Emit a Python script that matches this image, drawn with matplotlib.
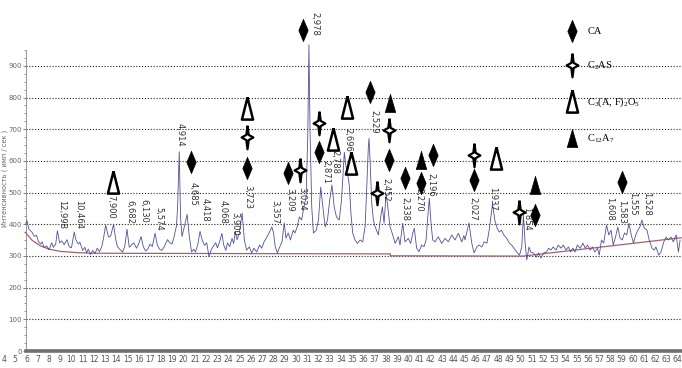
import matplotlib
matplotlib.use("Agg")
import matplotlib.pyplot as plt
from matplotlib.lines import Line2D

plt.rcParams["mathtext.fontset"] = "custom"
plt.rcParams["mathtext.rm"] = "Liberation Serif"
plt.rcParams["mathtext.default"] = "regular"

narrow = ["Liberation Sans Narrow", "DejaVu Sans"]

# diffraction pattern (2-theta, counts per second)
two_theta = [
    5.9, 6.05, 6.2, 6.5, 6.7, 6.9, 7.05, 7.25, 7.4, 7.55, 7.8, 8.0, 8.25, 8.4, 8.6, 8.75,
    8.95, 9.15, 9.35, 9.6, 9.8, 10.0, 10.25, 10.4, 10.6, 10.75, 11.0, 11.2, 11.35, 11.5,
    11.7, 11.9, 12.1, 12.3, 12.5, 12.7, 12.85, 13.05, 13.3, 13.5, 13.75, 13.95, 14.1,
    14.35, 14.55, 14.75, 14.95, 15.15, 15.35, 15.55, 15.8, 16.0, 16.2, 16.4, 16.6, 16.8,
    17.0, 17.2, 17.45, 17.65, 17.85, 18.05, 18.3, 18.55, 18.75, 18.95, 19.15, 19.35,
    19.45, 19.6, 19.72, 19.85, 20.05, 20.3, 20.5, 20.7, 20.9, 21.05, 21.25, 21.45, 21.65,
    21.85, 22.05, 22.25, 22.45, 22.65, 22.85, 23.0, 23.2, 23.4, 23.55, 23.75, 23.9, 24.1,
    24.3, 24.45, 24.6, 24.75, 24.95, 25.05, 25.2, 25.4, 25.6, 25.85, 26.05, 26.25, 26.5,
    26.75, 26.95, 27.15, 27.4, 27.6, 27.85, 28.0, 28.15, 28.35, 28.5, 28.75, 28.95, 29.1,
    29.3, 29.5, 29.75, 29.9, 30.1, 30.3, 30.5, 30.7, 30.9, 31.05, 31.15, 31.25, 31.4,
    31.55, 31.8, 32.0, 32.2, 32.45, 32.6, 32.8, 33.0, 33.2, 33.4, 33.6, 33.85, 34.05,
    34.3, 34.45, 34.6, 34.75, 34.9, 35.05, 35.26, 35.46, 35.7, 35.94, 36.15, 36.3, 36.44,
    36.5, 36.59, 36.74, 36.89, 37.04, 37.33, 37.54, 37.69, 37.84, 38.02, 38.17, 38.37,
    38.61, 38.82, 39.11, 39.26, 39.5, 39.7, 40.0, 40.21, 40.39, 40.53, 40.74, 40.95,
    41.19, 41.4, 41.58, 41.73, 41.87, 42.02, 42.17, 42.38, 42.67, 42.97, 43.27, 43.56,
    43.87, 44.16, 44.45, 44.76, 44.95, 45.05, 45.25, 45.4, 45.65, 45.85, 46.1, 46.3,
    46.55, 46.75, 47.0, 47.2, 47.35, 47.5, 47.7, 47.9, 48.1, 48.3, 48.5, 48.75, 49.0,
    49.2, 49.4, 49.65, 49.9, 50.1, 50.25, 50.4, 50.55, 50.75, 50.9, 51.15, 51.4, 51.6,
    51.8, 52.05, 52.3, 52.5, 52.7, 52.9, 53.15, 53.35, 53.6, 53.8, 54.05, 54.25, 54.45,
    54.65, 54.85, 55.05, 55.3, 55.55, 55.75, 55.95, 56.2, 56.4, 56.6, 56.85, 57.0, 57.2,
    57.4, 57.65, 57.85, 58.05, 58.25, 58.45, 58.65, 58.85, 59.05, 59.25, 59.45, 59.65,
    59.85, 60.05, 60.25, 60.45, 60.65, 60.8, 61.0, 61.25, 61.45, 61.7, 61.9, 62.05, 62.3,
    62.5, 62.75, 62.95, 63.15, 63.4, 63.6, 63.85, 64.05, 64.2,
]
intensity = [
    400, 412, 386, 375, 362, 366, 347, 338, 345, 328, 332, 320, 342, 328, 338, 380,
    342, 348, 336, 352, 330, 326, 376, 352, 338, 344, 318, 328, 310, 322,
    305, 318, 308, 325, 314, 330, 355, 398, 360, 364, 400, 352, 330,
    320, 313, 330, 385, 328, 335, 342, 325, 340, 362, 330, 316, 322,
    338, 330, 372, 335, 322, 318, 332, 352, 343, 338, 362, 395,
    450, 630, 420, 362, 392, 432, 362, 313, 322, 313, 336, 378, 350,
    334, 342, 298, 320, 332, 342, 326, 346, 372, 336, 318, 342, 330,
    356, 340, 378, 352, 372, 398, 436, 351, 319, 329, 310, 325, 313,
    335, 325, 345, 360, 373, 392, 373, 329, 310, 325, 345, 405, 357,
    373, 351, 382, 373, 392, 424, 414, 455, 487, 690, 968, 690, 455,
    373, 382, 414, 518, 436, 392, 414, 477, 525, 455, 424, 414, 477,
    628, 583, 560, 520, 430, 372, 351, 340, 351, 345, 393, 519, 646,
    672, 604, 468, 414, 393, 367, 424, 456, 404, 498, 456, 393,
    367, 340, 361, 335, 404, 345, 356, 340, 372, 388, 325, 314,
    335, 330, 351, 424, 483, 404, 351, 345, 361, 340, 356, 345,
    367, 351, 372, 345, 365, 351, 382, 405, 341, 310, 329, 335,
    329, 345, 341, 382, 424, 465, 414, 389, 376, 382, 367, 357, 341,
    335, 325, 313, 303, 329, 430, 341, 288, 329, 313, 310, 297, 310,
    294, 310, 313, 325, 319, 329, 319, 335, 325, 335, 319, 329, 313,
    325, 313, 335, 325, 341, 325, 335, 319, 329, 313, 325, 303, 351,
    341, 398, 367, 382, 335, 360, 392, 357, 351, 373, 367, 404,
    367, 341, 367, 382, 395, 414, 389, 382, 351, 325, 319, 329, 303,
    313, 345, 360, 351, 360, 345, 367, 313, 351,
]

# background line under the pattern
baseline_theta = [5.9, 6.5, 7.2, 8.0, 9.0, 10.5, 12.0, 38.4, 38.4, 50.2, 64.3]
baseline_level = [375, 350, 333, 322, 315, 311, 309, 307, 301, 300, 358]

# d-spacing labels: text, 2-theta of the label, top of the label
peak_d = ["12,998", "10,464", "7,900", "6,682", "6,130", "5,574", "4,914", "4,685",
          "4,418", "4,068", "3,900", "3,723", "3,357", "3,209", "3,024", "2,978",
          "2,871", "2,788", "2,696", "2,529", "2,452", "2,338", "2,270", "2,196",
          "2,027", "1,937", "1,854", "1,608", "1,583", "1,555", "1,528"]
peak_theta = [9.16, 10.68, 13.53, 15.22, 16.47, 17.8, 19.67, 20.83, 21.9, 23.5, 24.57,
              25.73, 28.13, 29.47, 30.54, 31.69, 32.67, 33.47, 34.63, 36.95, 38.02,
              39.71, 40.95, 42.02, 45.76, 47.54, 50.57, 57.96, 59.03, 60.01, 61.26]
peak_top = [477, 477, 493, 477, 480, 455, 720, 534, 483, 477, 439, 525, 477, 515, 518,
            1071, 604, 635, 705, 762, 547, 487, 515, 562, 487, 518, 455, 487, 477,
            502, 502]

# phase markers
ca_theta = [20.65, 30.62, 25.64, 29.29, 32.05, 36.59, 38.28, 39.71, 41.13, 42.2, 45.85,
            51.28, 59.03]
ca_level = [597, 1014, 578, 562, 629, 818, 604, 547, 531, 619, 540, 430, 534]
c2as_theta = [25.64, 30.36, 32.05, 38.28, 37.21, 45.85, 49.86]
c2as_level = [676, 572, 720, 698, 499, 619, 439]
caf_theta = [13.71, 25.64, 33.3, 34.54, 34.9, 47.81]
caf_level = [534, 768, 670, 771, 594, 610]
c12a7_theta = [38.37, 41.13, 51.28]
c12a7_level = [784, 604, 525]

phase_names = ["CA", "C$_2$AS", "C$_3$(A, F)$_2$O$_5$", "C$_{12}$A$_7$"]

diamond = [(0, 1), (0.42, 0), (0, -1), (-0.42, 0), (0, 1)]
star = [(0, 1), (0.1, 0.22), (0.5, 0), (0.1, -0.22), (0, -1), (-0.1, -0.22),
        (-0.5, 0), (-0.1, 0.22), (0, 1)]
triangle = [(0, 1), (0.5, -1), (-0.5, -1), (0, 1)]
wide_triangle = [(0, 1), (0.58, -1), (-0.58, -1), (0, 1)]

styles = [
    dict(marker=diamond, ms=16, mfc="black", mec="black", mew=0.5),
    dict(marker=star, ms=17, mfc="white", mec="black", mew=1.6),
    dict(marker=triangle, ms=16, mfc="white", mec="black", mew=1.8),
    dict(marker=wide_triangle, ms=13, mfc="black", mec="black", mew=0.5),
]


def box(left, top, right, bottom):
    return [left / 682, 1 - bottom / 368, (right - left) / 682, (bottom - top) / 368]


fig = plt.figure(figsize=(6.82, 3.68), dpi=100)

# intensity axis with the dotted grid
ax_y = fig.add_axes(box(26, 50, 682, 351))
ax_y.set_xlim(0, 1)
ax_y.set_ylim(0, 950)
ax_y.set_xticks([])
ax_y.set_yticks(range(0, 901, 100))
ax_y.set_yticks(range(0, 951, 25), minor=True)
ax_y.tick_params(axis="y", which="major", length=2.5, width=0.6, pad=0.5,
                 labelsize=5, colors="#666")
ax_y.tick_params(axis="y", which="minor", length=1.5, width=0.5, colors="#666")
for lab in ax_y.get_yticklabels():
    lab.set_family(narrow)
ax_y.grid(axis="y", which="major", color="#222", linestyle=(0, (1, 1.6)), linewidth=0.8)
ax_y.spines["top"].set_visible(False)
ax_y.spines["right"].set_visible(False)
ax_y.spines["left"].set_color("#888")
ax_y.spines["left"].set_linewidth(0.6)
ax_y.spines["bottom"].set_color("#6e6e6e")
ax_y.spines["bottom"].set_linewidth(2.6)

# pattern axis
ax = fig.add_axes(box(0, 10, 682, 351), facecolor="none")
ax.set_xlim(3.64, 64.37)
ax.set_ylim(0, 1078)
ax.set_xticks(range(4, 65))
ax.set_xticks(range(6, 65), minor=True)
ax.set_yticks([])
ax.tick_params(axis="x", which="both", length=0, pad=3, labelsize=5.5, colors="#555")
for lab in ax.get_xticklabels():
    lab.set_family(narrow)
ax.grid(axis="x", which="minor", color="#9a9a9a", linestyle=(0, (2.5, 2.5)), linewidth=0.5)
for s in ax.spines.values():
    s.set_visible(False)

ax.plot(baseline_theta, baseline_level, color="#a8606e", lw=0.9, zorder=2)
ax.plot(two_theta, intensity, color="#50509a", lw=0.6, zorder=3)

for d, x, top in zip(peak_d, peak_theta, peak_top):
    ax.text(x, top, d, rotation=270, ha="center", va="top", fontsize=6,
            color="#333", zorder=4, clip_on=False)

groups = [(ca_theta, ca_level), (c2as_theta, c2as_level),
          (caf_theta, caf_level), (c12a7_theta, c12a7_level)]
for (xs, ys), st in zip(groups, styles):
    ax.plot(xs, ys, ls="none", zorder=5, clip_on=False, **st)

handles = [Line2D([], [], ls="none", **st) for st in styles]
fig.legend(handles, phase_names, loc="upper left", bbox_to_anchor=(560.7 / 682, 1 - 22 / 368),
           frameon=False, borderpad=0, handlelength=1.2, handletextpad=0.85,
           labelspacing=2.25, prop={"family": "Liberation Serif", "size": 7.5})

fig.text(4.5 / 682, 1 - 178 / 368, "Интенсивность ( имп / сек )", rotation=90,
         ha="center", va="center", fontsize=4.8, color="#666")

fig.savefig("out.png", dpi=100)
